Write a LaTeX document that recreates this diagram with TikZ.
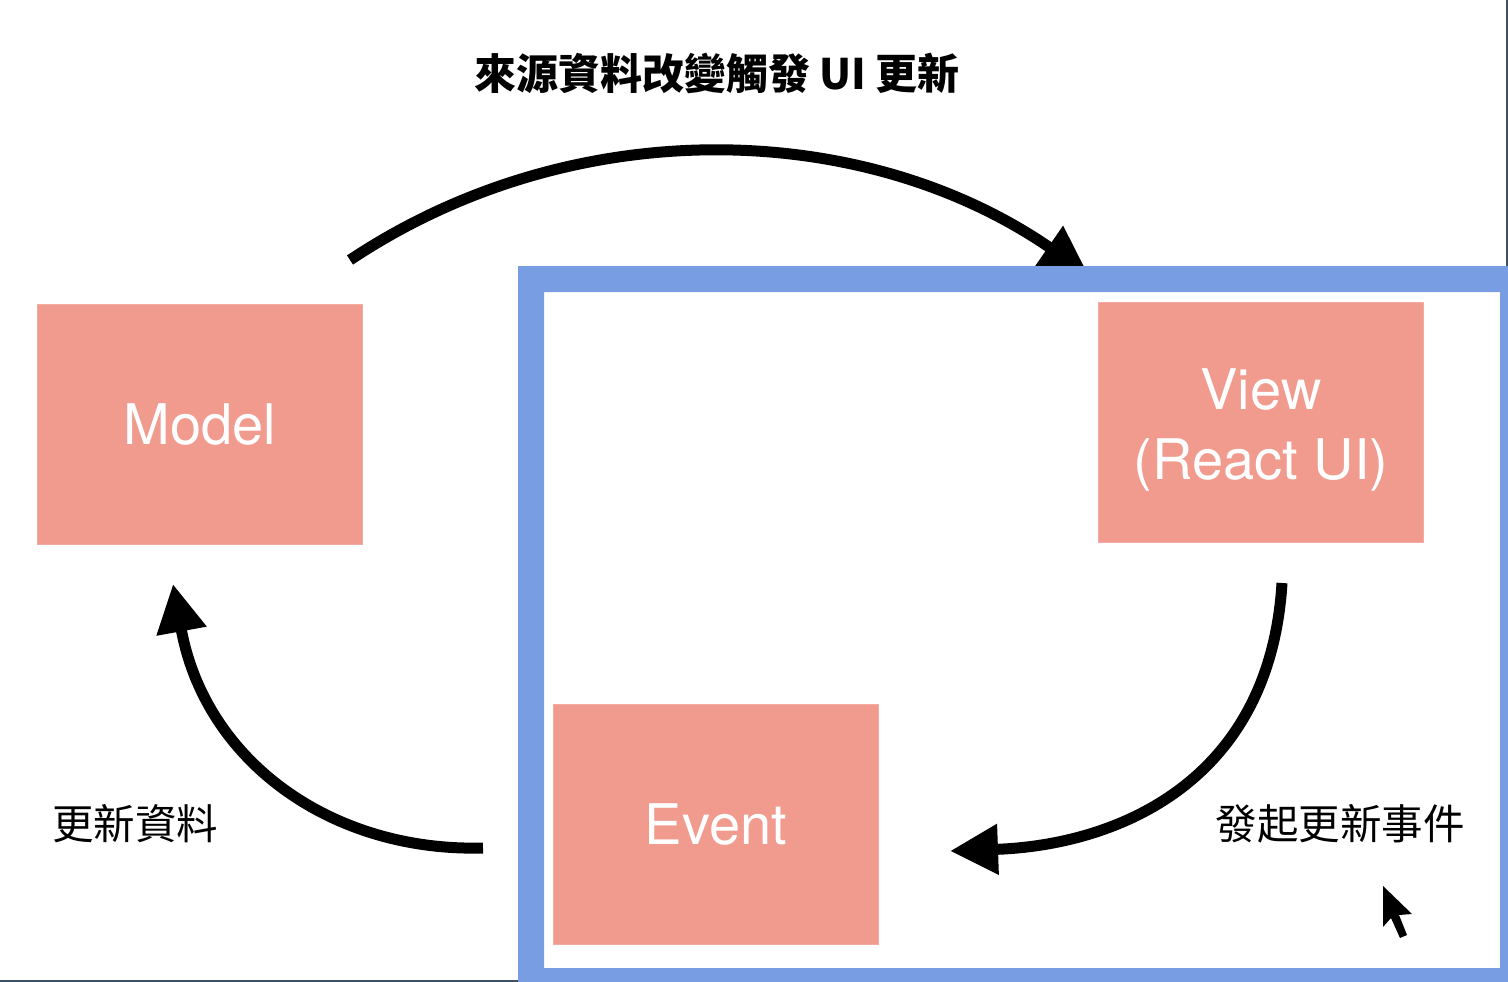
\documentclass[tikz,border=0pt]{standalone}
\usepackage{fontspec}
\setsansfont{TeX Gyre Heros}
\newfontfamily\cjk{Noto Sans CJK TC}
\usetikzlibrary{arrows.meta}
\definecolor{salmon}{HTML}{F19B8F}
\definecolor{salmonedge}{HTML}{F4ACA2}
\definecolor{frameblue}{HTML}{789DE3}
\definecolor{edgedark}{HTML}{3E4E63}
\tikzset{
  box/.style={fill=salmon, draw=salmonedge, line width=1pt, minimum width=325pt, minimum height=240pt,
    inner sep=0pt, text=white, font=\sffamily\fontsize{56}{70}\selectfont, align=center, anchor=north west},
  boxtext/.style={text=white, font=\sffamily\fontsize{56}{70}\selectfont, align=center, inner sep=0pt},
  flow/.style={line width=11pt, -{Triangle[length=48pt,width=48pt]}},
  cjklbl/.style={font=\cjk\fontsize{41.5}{48}\selectfont, inner sep=0pt},
}
\begin{document}
\begin{tikzpicture}[x=1pt,y=-1pt]
\useasboundingbox (0,0) rectangle (1508,982);
\fill[white] (0,0) rectangle (1508,982);

% boxes
\node[box] (model) at (37,304) {Model};
\node[box] (view) at (1098,302) {};
\node[boxtext] (viewtxt) at (1261,430) {View\\(React UI)};
\node[box] (event) at (553,704) {Event};

% arrow end points
\coordinate (a1s) at (350,260);
\coordinate (a1e) at (1088,274);
\coordinate (a2s) at (1282,583);
\coordinate (a2e) at (950,851);
\coordinate (a3s) at (483,848);
\coordinate (a3e) at (173,584);

\draw[flow] (a1s) .. controls (575,110) and (865,120) .. (a1e);
\draw[flow] (a2s) .. controls (1270,780) and (1120,845) .. (a2e);
\draw[flow] (a3s) .. controls (330,852) and (205,760) .. (a3e);

% blue frame (drawn over the top arrowhead)
\fill[frameblue, even odd rule] (518,266) rectangle (1508,982) (544,292) rectangle (1500,968);

% window edges
\fill[edgedark] (1506,0) rectangle (1508,266);
\fill[edgedark] (0,980) rectangle (518,982);

% labels
\node[cjklbl, font=\cjk\bfseries\fontsize{42}{48}\selectfont] (toplbl) at (717,73) {來源資料改變觸發 UI 更新};
\node[cjklbl] (leftlbl) at (135,824) {更新資料};
\node[cjklbl] (rightlbl) at (1340,824) {發起更新事件};

% mouse cursor
\fill[black] (1383,886) -- (1383,927) -- (1391,918) -- (1400,938) -- (1407,935) -- (1399,915) -- (1412,914) -- cycle;
\end{tikzpicture}
\end{document}
